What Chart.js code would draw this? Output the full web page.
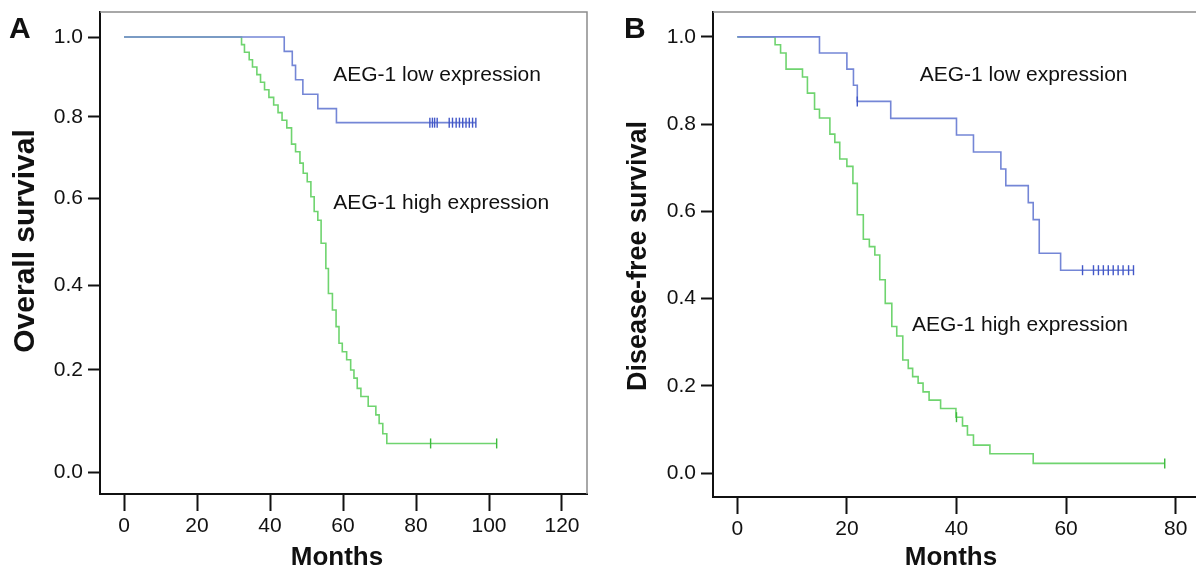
<!DOCTYPE html>
<html><head><meta charset="utf-8">
<script src="https://cdn.jsdelivr.net/npm/chart.js@4.4.1/dist/chart.umd.min.js"></script>
<style>
html,body{margin:0;padding:0;background:#fff;overflow:hidden;width:1196px;height:574px;}
#wa{position:absolute;left:0;top:0;width:600px;height:574px;}
#wb{position:absolute;left:600px;top:0;width:600px;height:574px;}
</style></head><body>
<div id="wa"><canvas id="ca" width="600" height="574"></canvas></div>
<div id="wb"><canvas id="cb" width="600" height="574"></canvas></div>
<script>
// ---------- data ----------
const yTicks = [0, 0.2, 0.4, 0.6, 0.8, 1.0];
const xTicksA = [0, 20, 40, 60, 80, 100, 120];
const xTicksB = [0, 20, 40, 60, 80];

// Panel A: overall survival
const lowATimes = [0, 43.9, 46.1, 47.0, 49.0, 53.1, 58.2, 96.4];
const lowASurv  = [1, 0.964, 0.929, 0.893, 0.857, 0.821, 0.786, 0.786];
const lowACensor = [83.8, 84.5, 85.1, 85.8, 89.1, 90.0, 91.0, 91.9, 92.8, 93.7, 94.6, 95.5, 96.4];

const highATimes = [0, 32.2, 33.0, 34.3, 35.2, 36.4, 37.4, 38.5, 39.7, 41.0, 42.2, 43.3, 44.6, 45.9, 47.0, 48.2, 49.1, 50.2, 51.2, 52.1, 53.1, 54.0, 55.3, 56.0, 57.1, 58.1, 58.9, 59.8, 61.0, 62.1, 63.0, 63.9, 64.9, 66.9, 69.0, 69.9, 70.9, 72.0, 102.1];
const highASurv  = [1, 0.981, 0.962, 0.943, 0.925, 0.906, 0.887, 0.868, 0.849, 0.830, 0.811, 0.792, 0.773, 0.733, 0.714, 0.686, 0.661, 0.640, 0.603, 0.569, 0.549, 0.496, 0.438, 0.380, 0.341, 0.302, 0.263, 0.243, 0.224, 0.200, 0.184, 0.164, 0.148, 0.129, 0.112, 0.095, 0.075, 0.056, 0.056];
const highACensor = [84.0, 102.1];

// Panel B: disease-free survival
const lowBTimes = [0, 15.0, 20.0, 21.2, 21.9, 28.0, 40.0, 43.1, 48.1, 49.0, 53.1, 54.0, 55.1, 59.0, 72.3];
const lowBSurv  = [1, 0.963, 0.926, 0.889, 0.852, 0.813, 0.775, 0.736, 0.697, 0.659, 0.620, 0.581, 0.504, 0.465, 0.465];
const lowBCensor = [21.9, 63.0, 65.0, 65.9, 66.8, 67.7, 68.6, 69.5, 70.4, 71.4, 72.3];

const highBTimes = [0, 6.9, 7.9, 8.9, 11.9, 12.8, 14.1, 15.0, 16.9, 17.8, 18.7, 20.0, 21.1, 21.9, 23.0, 24.1, 25.1, 26.0, 27.0, 28.2, 29.1, 30.2, 31.2, 32.0, 33.0, 33.9, 35.0, 37.1, 39.9, 41.1, 42.0, 43.1, 46.1, 54.0, 78.0];
const highBSurv  = [1, 0.982, 0.963, 0.926, 0.908, 0.871, 0.834, 0.814, 0.777, 0.758, 0.720, 0.703, 0.664, 0.592, 0.536, 0.519, 0.500, 0.443, 0.389, 0.336, 0.314, 0.259, 0.240, 0.221, 0.206, 0.186, 0.167, 0.148, 0.128, 0.108, 0.087, 0.064, 0.044, 0.022, 0.022];
const highBCensor = [40.0, 78.0];

const seriesNames = ['AEG-1 low expression', 'AEG-1 high expression'];
const xTitle = 'Months';
const yTitleA = 'Overall survival';
const yTitleB = 'Disease-free survival';

// ---------- helpers ----------
const FONT = '"Liberation Sans", Arial, Helvetica, sans-serif';
const BLUE = '#7486d6', BLUE_DARK = '#4257c8';
const GREEN = '#6fd46f', GREEN_DARK = '#3cba3c';

function pts(times, surv) { return times.map((t, i) => ({x: t, y: surv[i]})); }
function survAt(times, surv, t) {
  let v = surv[0];
  for (let i = 0; i < times.length; i++) if (times[i] <= t + 1e-9) v = surv[i];
  return v;
}
function censorPts(ct, times, surv) { return ct.map(t => ({x: t, y: survAt(times, surv, t)})); }

// Panel A's value axis in the source is not evenly spaced: piecewise mapping
// [value, fraction of plot height from bottom]
const warpAnchorsA = [[-0.0431, 0], [0, 0.0456], [0.2, 0.2573], [0.4, 0.4336], [0.6, 0.6141], [0.8, 0.7822], [1.0, 0.9481], [1.0625, 1]];
function warpFrac(v, a) {
  if (v <= a[0][0]) return a[0][1] + (v - a[0][0]) * (a[1][1] - a[0][1]) / (a[1][0] - a[0][0]);
  for (let i = 1; i < a.length; i++) {
    if (v <= a[i][0]) {
      const [v0, f0] = a[i-1], [v1, f1] = a[i];
      return f0 + (v - v0) * (f1 - f0) / (v1 - v0);
    }
  }
  const n = a.length;
  return a[n-1][1] + (v - a[n-1][0]) * (a[n-1][1] - a[n-2][1]) / (a[n-1][0] - a[n-2][0]);
}
function warpVal(f, a) {
  for (let i = 1; i < a.length; i++) {
    if (f <= a[i][1] || i === a.length - 1) {
      const [v0, f0] = a[i-1], [v1, f1] = a[i];
      return v0 + (f - f0) * (v1 - v0) / (f1 - f0);
    }
  }
}
class WarpLinearScale extends Chart.LinearScale {
  getPixelForValue(value) {
    const f = warpFrac(value, warpAnchorsA);
    return this.bottom - f * (this.bottom - this.top);
  }
  getValueForPixel(pixel) {
    return warpVal((this.bottom - pixel) / (this.bottom - this.top), warpAnchorsA);
  }
}
WarpLinearScale.id = 'warpLinear';
Chart.register(WarpLinearScale);

function noPad(s) { s.paddingTop = 0; s.paddingBottom = 0; s.paddingLeft = 0; s.paddingRight = 0; }

const decor = {
  id: 'decor',
  afterDatasetsDraw(chart, args, o) {
    const {ctx, chartArea: a} = chart;
    ctx.save();
    // top & right frame edges
    ctx.strokeStyle = '#8c8c8c'; ctx.lineWidth = 1.5;
    ctx.beginPath();
    ctx.moveTo(a.left, a.top); ctx.lineTo(a.right, a.top); ctx.lineTo(a.right, a.bottom);
    ctx.stroke();
    // curve notes
    ctx.fillStyle = '#111'; ctx.font = '21px ' + FONT; ctx.textBaseline = 'middle'; ctx.textAlign = 'left';
    const xs = chart.scales.x, ys = chart.scales.y;
    o.notes.forEach(n => ctx.fillText(n.text, xs.getPixelForValue(n.x), ys.getPixelForValue(n.y)));
    // axis titles
    ctx.textAlign = 'center';
    ctx.font = 'bold 26px ' + FONT;
    ctx.fillText(o.xTitle, o.xtx, o.xty);
    ctx.save();
    ctx.translate(o.ytx, o.yty); ctx.rotate(-Math.PI / 2);
    ctx.font = 'bold ' + o.ytSize + 'px ' + FONT;
    ctx.fillText(o.yTitle, 0, 0);
    ctx.restore();
    // panel letter
    ctx.textAlign = 'left';
    ctx.font = 'bold 30px ' + FONT; ctx.textBaseline = 'alphabetic';
    ctx.fillText(o.letter, o.lx, o.ly);
    ctx.restore();
  }
};

function makeChart(id, cfg) {
  const datasets = [
    {data: pts(cfg.highT, cfg.highS), borderColor: GREEN, borderWidth: 1.6, stepped: 'before', pointRadius: 0, fill: false, order: 2},
    {data: pts(cfg.lowT, cfg.lowS), borderColor: BLUE, borderWidth: 1.6, stepped: 'before', pointRadius: 0, fill: false, order: 1},
    {data: censorPts(cfg.highC, cfg.highT, cfg.highS), showLine: false, pointStyle: 'line', rotation: 90, pointRadius: 5, borderColor: GREEN_DARK, pointBorderWidth: 1.4, order: 0},
    {data: censorPts(cfg.lowC, cfg.lowT, cfg.lowS), showLine: false, pointStyle: 'line', rotation: 90, pointRadius: 5, borderColor: BLUE_DARK, pointBorderWidth: 1.4, order: 0}
  ];
  return new Chart(document.getElementById(id), {
    type: 'line',
    data: {datasets},
    plugins: [decor],
    options: {
      responsive: false, animation: false, devicePixelRatio: 1, events: [],
      layout: {autoPadding: false, padding: {left: 0, right: cfg.padRight, top: 12, bottom: 0}},
      plugins: {legend: {display: false}, tooltip: {enabled: false},
        decor: {notes: cfg.notes, letter: cfg.letter, lx: cfg.lx, ly: 38,
                xTitle: xTitle, xtx: cfg.xtx, xty: 558,
                yTitle: cfg.yTitle, ytx: cfg.ytx, yty: cfg.yty, ytSize: cfg.ytSize}},
      scales: {
        x: {
          type: 'linear', min: cfg.xmin, max: cfg.xmax,
          afterBuildTicks: s => { s.ticks = cfg.xTicks.map(v => ({value: v})); },
          afterFit: s => { s.height = cfg.xh; noPad(s); },
          ticks: {callback: v => String(v), font: {family: FONT, size: 21}, color: '#111', padding: 3, maxRotation: 0, autoSkip: false},
          grid: {drawOnChartArea: false, drawTicks: true, tickLength: 17, tickWidth: 2, tickColor: '#111'},
          border: {display: true, color: '#111', width: 2},
          title: {display: false}
        },
        y: {
          type: cfg.yType, min: cfg.ymin, max: cfg.ymax,
          afterBuildTicks: s => { s.ticks = yTicks.map(v => ({value: v})); },
          afterFit: s => { s.width = cfg.yw; noPad(s); },
          ticks: {callback: v => Number(v).toFixed(1), font: {family: FONT, size: 21}, color: '#111', padding: 5, autoSkip: false},
          grid: {drawOnChartArea: false, drawTicks: true, tickLength: 12, tickWidth: 2, tickColor: '#111'},
          border: {display: true, color: '#111', width: 2},
          title: {display: false}
        }
      }
    }
  });
}

makeChart('ca', {
  highT: highATimes, highS: highASurv, highC: highACensor,
  lowT: lowATimes, lowS: lowASurv, lowC: lowACensor,
  xmin: -6.58, xmax: 126.85, xTicks: xTicksA, xh: 80, yw: 100, padRight: 13,
  yType: 'warpLinear', ymin: -0.0431, ymax: 1.0625,
  yTitle: yTitleA, ytx: 26, yty: 241, ytSize: 30, xtx: 337,
  letter: 'A', lx: 9,
  notes: [{text: seriesNames[0], x: 57.3, y: 0.905}, {text: seriesNames[1], x: 57.3, y: 0.589}]
});
makeChart('cb', {
  highT: highBTimes, highS: highBSurv, highC: highBCensor,
  lowT: lowBTimes, lowS: lowBSurv, lowC: lowBCensor,
  xmin: -4.43, xmax: 84.07, xTicks: xTicksB, xh: 77, yw: 113, padRight: 2,
  yType: 'linear', ymin: -0.055, ymax: 1.057,
  yTitle: yTitleB, ytx: 39, yty: 256, ytSize: 27, xtx: 351,
  letter: 'B', lx: 24,
  notes: [{text: seriesNames[0], x: 33.3, y: 0.911}, {text: seriesNames[1], x: 31.9, y: 0.339}]
});
</script>
</body></html>
